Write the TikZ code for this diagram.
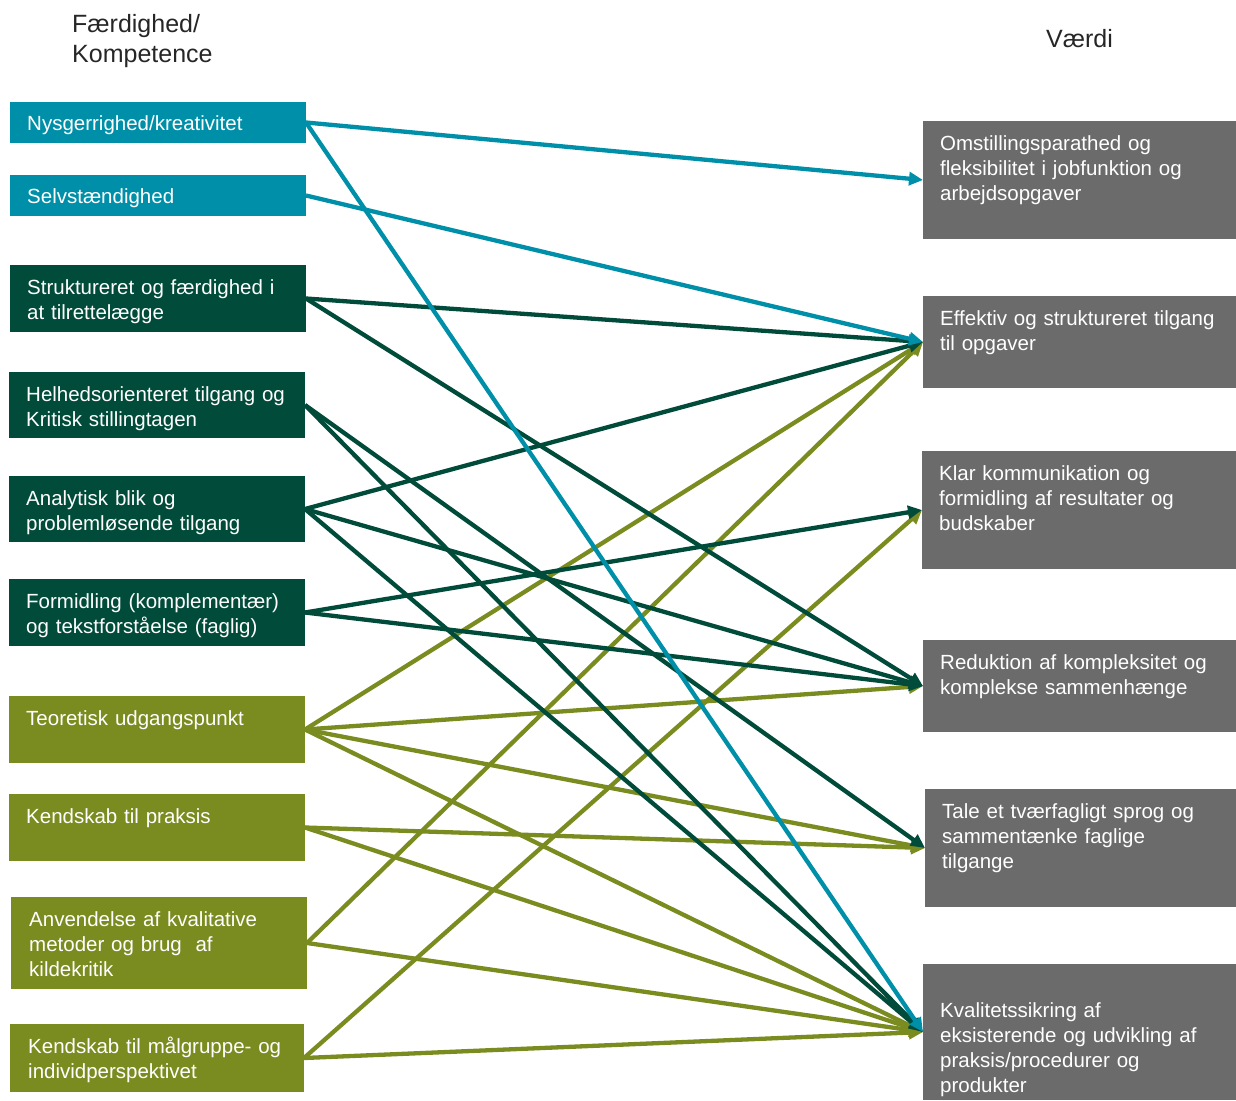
\documentclass[tikz,border=0pt]{standalone}
\usepackage{fontspec}
\setmainfont{Liberation Sans}
\usetikzlibrary{arrows.meta}
\definecolor{cblue}{HTML}{008FA8}
\definecolor{cdark}{HTML}{004B3A}
\definecolor{colive}{HTML}{7A8C20}
\definecolor{cgray}{HTML}{6B6B6B}
\begin{document}
\begin{tikzpicture}[x=1pt,y=-1pt,
  lbox/.style={anchor=north west, inner sep=0pt, outer sep=0pt, minimum width=296pt},
  rbox/.style={anchor=north west, inner sep=0pt, outer sep=0pt, fill=cgray, minimum width=313pt},
  txt/.style={anchor=north west, inner sep=0pt, text width=300pt, align=left, text=white,
    font=\fontsize{20.5}{25}\selectfont},
  ttl/.style={anchor=north west, inner sep=0pt, text width=200pt, align=left, text=black!85,
    font=\fontsize{25}{30}\selectfont},
  conn/.style={line width=4.3pt, -{Triangle[length=14pt,width=13pt]}},
]
\useasboundingbox (0,0) rectangle (1236,1100);

% titles
\node[ttl] (hl) at (72,8) {\rule{0pt}{24pt}Færdighed/\\Kompetence};
\node[ttl] (hr) at (1046,23) {\rule{0pt}{24pt}Værdi};

% left boxes
\node[lbox, fill=cblue,  minimum height=41pt] (s1) at (10,102) {};
\node[lbox, fill=cblue,  minimum height=41pt] (s2) at (10,175) {};
\node[lbox, fill=cdark,  minimum height=67pt] (s3) at (10,265) {};
\node[lbox, fill=cdark,  minimum height=66pt] (s4) at (9,372) {};
\node[lbox, fill=cdark,  minimum height=66pt] (s5) at (9,476) {};
\node[lbox, fill=cdark,  minimum height=67pt] (s6) at (9,579) {};
\node[lbox, fill=colive, minimum height=67pt] (s7) at (9,696) {};
\node[lbox, fill=colive, minimum height=67pt] (s8) at (9,794) {};
\node[lbox, fill=colive, minimum height=92pt] (s9) at (11,897) {};
\node[lbox, fill=colive, minimum height=68pt, minimum width=294pt] (s10) at (10,1024) {};

\node[txt] (ts1) at (27,102+7) {\rule{0pt}{21pt}Nysgerrighed/kreativitet};
\node[txt] (ts2) at (27,175+7) {\rule{0pt}{21pt}Selvstændighed};
\node[txt] (ts3) at (27,265+8) {\rule{0pt}{21pt}Struktureret og færdighed i\\at tilrettelægge};
\node[txt] (ts4) at (26,372+8) {\rule{0pt}{21pt}Helhedsorienteret tilgang og\\Kritisk stillingtagen};
\node[txt] (ts5) at (26,476+8) {\rule{0pt}{21pt}Analytisk blik og\\problemløsende tilgang};
\node[txt] (ts6) at (26,579+8) {\rule{0pt}{21pt}Formidling (komplementær)\\og tekstforståelse (faglig)};
\node[txt] (ts7) at (26,696+8) {\rule{0pt}{21pt}Teoretisk udgangspunkt};
\node[txt] (ts8) at (26,794+8) {\rule{0pt}{21pt}Kendskab til praksis};
\node[txt] (ts9) at (29,897+8) {\rule{0pt}{21pt}Anvendelse af kvalitative\\metoder og brug\ \ af\\kildekritik};
\node[txt] (ts10) at (28,1024+8) {\rule{0pt}{21pt}Kendskab til målgruppe- og\\individperspektivet};

% right boxes
\node[rbox, minimum height=118pt] (v1) at (923,121) {};
\node[rbox, minimum height=92pt]  (v2) at (923,296) {};
\node[rbox, minimum height=118pt, minimum width=314pt] (v3) at (922,451) {};
\node[rbox, minimum height=92pt]  (v4) at (923,640) {};
\node[rbox, minimum height=118pt, minimum width=311pt] (v5) at (925,789) {};
\node[rbox, minimum height=136pt] (v6) at (923,964) {};

\node[txt] (tv1) at (940,121+8) {\rule{0pt}{21pt}Omstillingsparathed og\\fleksibilitet i jobfunktion og\\arbejdsopgaver};
\node[txt] (tv2) at (940,296+8) {\rule{0pt}{21pt}Effektiv og struktureret tilgang\\til opgaver};
\node[txt] (tv3) at (939,451+8) {\rule{0pt}{21pt}Klar kommunikation og\\formidling af resultater og\\budskaber};
\node[txt] (tv4) at (940,640+8) {\rule{0pt}{21pt}Reduktion af kompleksitet og\\komplekse sammenhænge};
\node[txt] (tv5) at (942,789+8) {\rule{0pt}{21pt}Tale et tværfagligt sprog og\\sammentænke faglige\\tilgange};
\node[txt] (tv6) at (940,996) {\rule{0pt}{21pt}Kvalitetssikring af\\eksisterende og udvikling af\\praksis/procedurer og\\produkter};

% connectors: olive
\draw[conn, colive] (s7.east) -- (v2.west);
\draw[conn, colive] (s7.east) -- (v4.west);
\draw[conn, colive] (s7.east) -- (v5.west);
\draw[conn, colive] (s7.east) -- (v6.west);
\draw[conn, colive] (s8.east) -- (v5.west);
\draw[conn, colive] (s8.east) -- (v6.west);
\draw[conn, colive] (s9.east) -- (v2.west);
\draw[conn, colive] (s9.east) -- (v6.west);
\draw[conn, colive] (s10.east) -- (v3.west);
\draw[conn, colive] (s10.east) -- (v6.west);
% dark green
\draw[conn, cdark] (s3.east) -- (v2.west);
\draw[conn, cdark] (s3.east) -- (v4.west);
\draw[conn, cdark] (s4.east) -- (v5.west);
\draw[conn, cdark] (s4.east) -- (v6.west);
\draw[conn, cdark] (s5.east) -- (v2.west);
\draw[conn, cdark] (s5.east) -- (v4.west);
\draw[conn, cdark] (s5.east) -- (v6.west);
\draw[conn, cdark] (s6.east) -- (v3.west);
\draw[conn, cdark] (s6.east) -- (v4.west);
% blue
\draw[conn, cblue] (s1.east) -- (v1.west);
\draw[conn, cblue] (s1.east) -- (v6.west);
\draw[conn, cblue] (s2.east) -- (v2.west);
\end{tikzpicture}
\end{document}
